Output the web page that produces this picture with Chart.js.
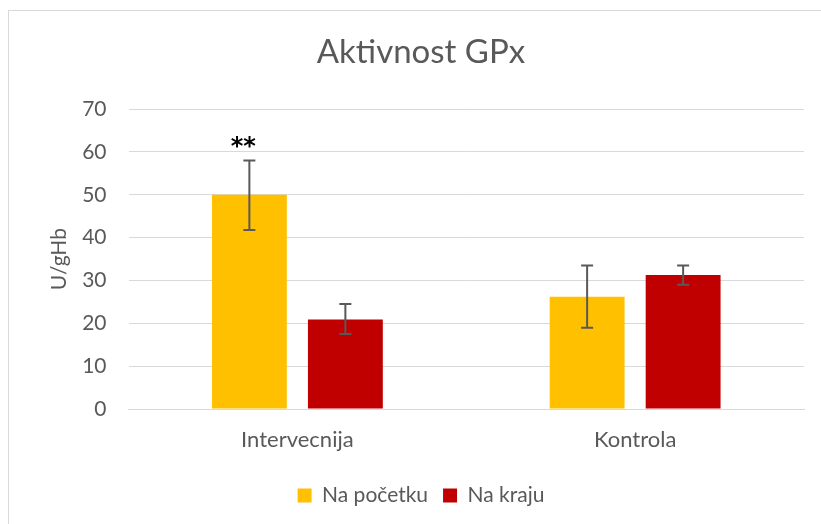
<!DOCTYPE html>
<html>
<head>
<meta charset="utf-8">
<script src="https://cdn.jsdelivr.net/npm/chart.js@4"></script>
<style>
    html, body { margin: 0; padding: 0; background: #fff; }
    #wrap { position: relative; width: 821px; height: 524px; overflow: hidden; }
    #frame { position: absolute; left: 8px; top: 10px; width: 900px; height: 600px; border-left: 1px solid #d9d9d9; border-top: 1px solid #d9d9d9; }
    canvas { position: absolute; left: 0; top: 0; }
</style>
</head>
<body>
<div id="wrap">
    <div id="frame"></div>
    <canvas id="chart" width="821" height="524"></canvas>
</div>
<script>
const categories = ['Intervecnija', 'Kontrola'];
const seriesNames = ['Na početku', 'Na kraju'];
const startValues = [50.0, 26.2];
const endValues = [20.9, 31.3];
// error bar ends (low, high)
const startLow = [41.8, 19.0];
const startHigh = [58.0, 33.5];
const endLow = [17.5, 29.0];
const endHigh = [24.5, 33.5];
const startSig = ['**', ''];
const endSig = ['', ''];
const yTicks = [0, 10, 20, 30, 40, 50, 60, 70];

const textColor = '#595959';
const gridColor = '#d9d9d9';
const font = 'Lato, "Open Sans", sans-serif';

const errorBars = {
    id: 'errorBars',
    afterDatasetsDraw(chart) {
        const ctx = chart.ctx;
        const y = chart.scales.y;
        ctx.save();
        chart.data.datasets.forEach((ds, i) => {
            const meta = chart.getDatasetMeta(i);
            meta.data.forEach((bar, j) => {
                const top = y.getPixelForValue(ds.errHigh[j]);
                const bot = y.getPixelForValue(ds.errLow[j]);
                ctx.strokeStyle = '#595959';
                ctx.lineWidth = 2;
                ctx.beginPath();
                ctx.moveTo(bar.x, top); ctx.lineTo(bar.x, bot);
                ctx.moveTo(bar.x - 6, top); ctx.lineTo(bar.x + 6, top);
                ctx.moveTo(bar.x - 6, bot); ctx.lineTo(bar.x + 6, bot);
                ctx.stroke();
                if (ds.sig[j]) {
                    ctx.fillStyle = '#000';
                    ctx.font = 'bold 24px "DejaVu Sans", sans-serif';
                    ctx.textAlign = 'center';
                    ctx.textBaseline = 'middle';
                    ctx.fillText(ds.sig[j], bar.x - 6, top - 13);
                }
            });
        });
        ctx.restore();
    }
};

new Chart(document.getElementById('chart'), {
    type: 'bar',
    data: {
        labels: categories,
        datasets: [{
            label: seriesNames[0],
            data: startValues,
            errLow: startLow,
            errHigh: startHigh,
            sig: startSig,
            backgroundColor: '#FFC000'
        }, {
            label: seriesNames[1],
            data: endValues,
            errLow: endLow,
            errHigh: endHigh,
            sig: endSig,
            backgroundColor: '#C00000'
        }]
    },
    options: {
        responsive: false,
        animation: false,
        layout: { padding: { left: 38, right: 17, top: 0, bottom: 8 } },
        datasets: { bar: { barPercentage: 0.78, categoryPercentage: 0.5685 } },
        plugins: {
            title: {
                display: true,
                text: 'Aktivnost GPx',
                color: textColor,
                font: { family: font, size: 33, weight: 'normal' },
                padding: { top: 33, bottom: 36.5 }
            },
            legend: {
                position: 'bottom',
                labels: {
                    color: textColor,
                    font: { family: font, size: 21 },
                    boxWidth: 14,
                    boxHeight: 14,
                    padding: 15
                }
            },
            tooltip: { enabled: false }
        },
        scales: {
            x: {
                afterFit(scale) { scale.height += 6.5; },
                grid: { display: false },
                border: { color: gridColor },
                ticks: { color: textColor, font: { family: font, size: 22 }, padding: 10 }
            },
            y: {
                min: 0,
                max: 70,
                afterBuildTicks(scale) { scale.ticks = yTicks.map(v => ({ value: v })); },
                afterFit(scale) { scale.width = 90.5; },
                grid: { color: gridColor, drawTicks: false },
                border: { display: false },
                ticks: { color: textColor, font: { family: font, size: 21 }, padding: 22 },
                title: {
                    display: true,
                    text: 'U/gHb',
                    color: textColor,
                    font: { family: font, size: 21 },
                    padding: { top: 9, bottom: 0 }
                }
            }
        }
    },
    plugins: [errorBars]
});
</script>
</body>
</html>
